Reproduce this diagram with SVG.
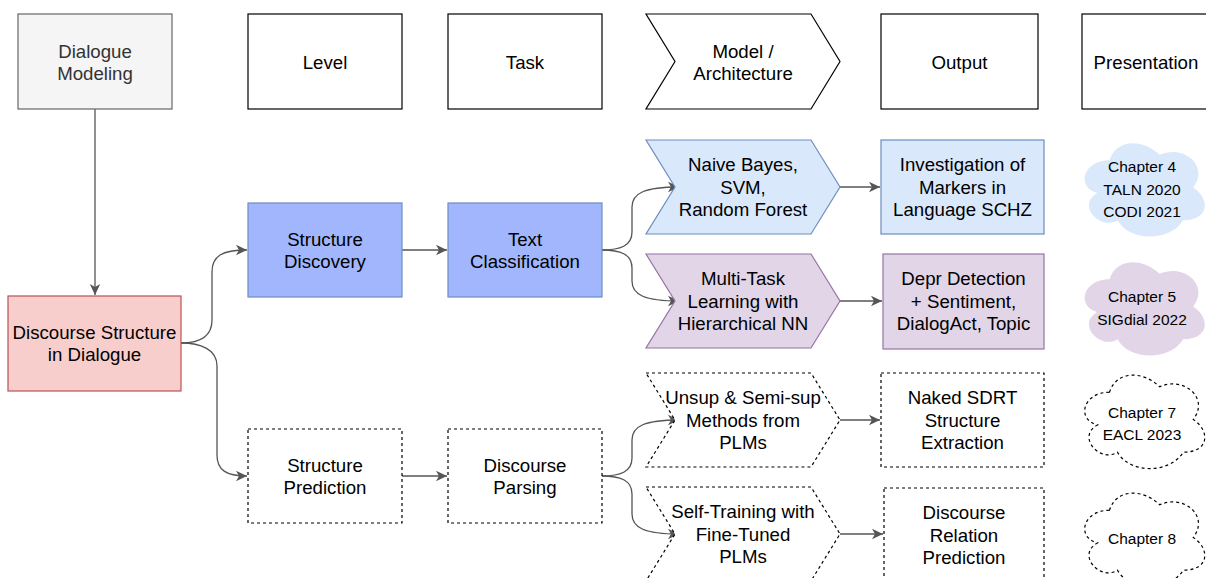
<svg xmlns="http://www.w3.org/2000/svg" xmlns:xlink="http://www.w3.org/1999/xlink" width="1206" height="578" viewBox="0 0 1206 578">
<style>
text{font-family:"Liberation Sans",Arial,Helvetica,sans-serif;font-size:18.67px;fill:#000;text-anchor:middle}
text.sm{font-size:15.5px}
text.gray{fill:#333}
.hdr{fill:#fff;stroke:#000;stroke-width:1.2}
.dash{fill:#fff;stroke:#000;stroke-width:1.2;stroke-dasharray:3 3}
.blue{fill:#dae8fc;stroke:#6c8ebf;stroke-width:1.2}
.blue2{fill:#a1b6fd;stroke:#6c8ebf;stroke-width:1.2}
.purple{fill:#e1d5e7;stroke:#9673a6;stroke-width:1.2}
.red{fill:#f8cecc;stroke:#b85450;stroke-width:1.2}
.grey{fill:#f5f5f5;stroke:#666;stroke-width:1.2}
.edge{fill:none;stroke:#555;stroke-width:1.3;marker-end:url(#arr)}
</style>
<defs>
<marker id="arr" markerWidth="13" markerHeight="12" refX="11" refY="6" orient="auto" markerUnits="userSpaceOnUse">
<path d="M0,0.8 L11,6 L0,11.2 L3,6 Z" fill="#555"/>
</marker>
<path id="cloud" d="M33.5,27.25 C6.7,27.25 0,54.5 21.44,59.95 C0,71.94 24.12,98.1 41.54,87.2 C53.6,109 93.8,109 107.2,87.2 C134,87.2 134,65.4 117.25,54.5 C134,32.7 107.2,10.9 83.75,21.8 C67,5.45 40.2,5.45 33.5,27.25 Z"/>
</defs>
<rect width="1206" height="578" fill="#fff"/>

<g id="edges">
<path class="edge" d="M95,109 L95,295"/>
<path class="edge" d="M181,343 C200,343 212,337 212,320 L212,272 C212,256 222,250 247,250"/>
<path class="edge" d="M181,343 C200,343 217,349 217,366 L217,455 C217,470 226,476 247,476"/>
<path class="edge" d="M402,250 L447,250"/>
<path class="edge" d="M402,476 L447,476"/>
<path class="edge" d="M602,250 C620,250 632,246 632,232 L632,207 C632,193 645,187 679,187"/>
<path class="edge" d="M602,250 C620,250 632,254 632,268 L632,281 C632,295 645,301 679,301"/>
<path class="edge" d="M602,476 C620,476 632,472 632,458 L632,440 C632,426 645,420 679,420"/>
<path class="edge" d="M602,476 C620,476 632,480 632,494 L632,514 C632,528 645,534 679,534"/>
<path class="edge" d="M840,187 L880,187"/>
<path class="edge" d="M840,301 L882,301"/>
<path class="edge" d="M840,420 L880,420"/>
<path class="edge" d="M840,534 L883,534"/>
</g>

<g id="dialogue-modeling">
<rect class="grey" x="18" y="14" width="154" height="95"/>
<text class="gray"><tspan x="95" y="57.5">Dialogue</tspan><tspan x="95" y="79.9">Modeling</tspan></text>
</g>
<g id="hdr-level">
<rect class="hdr" x="248" y="14" width="154" height="95"/>
<text x="325" y="68.7">Level</text>
</g>
<g id="hdr-task">
<rect class="hdr" x="448" y="14" width="154" height="95"/>
<text x="525" y="68.7">Task</text>
</g>
<g id="hdr-model">
<path class="hdr" d="M646,14 L811,14 L840,61.5 L811,109 L646,109 L675,61.5 Z"/>
<text><tspan x="743" y="57.5">Model /</tspan><tspan x="743" y="79.9">Architecture</tspan></text>
</g>
<g id="hdr-output">
<rect class="hdr" x="881" y="14" width="157" height="95"/>
<text x="959.5" y="68.7">Output</text>
</g>
<g id="hdr-presentation">
<rect class="hdr" x="1082" y="14" width="130" height="95"/>
<text x="1146" y="68.7">Presentation</text>
</g>

<g id="discourse-structure">
<rect class="red" x="8" y="296" width="173" height="95"/>
<text><tspan x="94.5" y="338.5">Discourse Structure</tspan><tspan x="94.5" y="360.9">in Dialogue</tspan></text>
</g>
<g id="structure-discovery">
<rect class="blue2" x="248" y="203" width="154" height="94"/>
<text><tspan x="325" y="245.5">Structure</tspan><tspan x="325" y="267.9">Discovery</tspan></text>
</g>
<g id="text-classification">
<rect class="blue2" x="448" y="203" width="154" height="94"/>
<text><tspan x="525" y="245.5">Text</tspan><tspan x="525" y="267.9">Classification</tspan></text>
</g>
<g id="structure-prediction">
<rect class="dash" x="248" y="429" width="154" height="94"/>
<text><tspan x="325" y="471.5">Structure</tspan><tspan x="325" y="493.9">Prediction</tspan></text>
</g>
<g id="discourse-parsing">
<rect class="dash" x="448" y="429" width="154" height="94"/>
<text><tspan x="525" y="471.5">Discourse</tspan><tspan x="525" y="493.9">Parsing</tspan></text>
</g>

<g id="naive-bayes">
<path class="blue" d="M646,140 L811,140 L840,187 L811,234 L646,234 L675,187 Z"/>
<text><tspan x="743" y="171.3">Naive Bayes,</tspan><tspan x="743" y="193.7">SVM,</tspan><tspan x="743" y="216.1">Random Forest</tspan></text>
</g>
<g id="investigation">
<rect class="blue" x="881" y="140" width="163" height="94"/>
<text><tspan x="962.5" y="171.3">Investigation of</tspan><tspan x="962.5" y="193.7">Markers in</tspan><tspan x="962.5" y="216.1">Language SCHZ</tspan></text>
</g>
<g id="multi-task">
<path class="purple" d="M646,254 L811,254 L840,301 L811,348 L646,348 L675,301 Z"/>
<text><tspan x="743" y="285.3">Multi-Task</tspan><tspan x="743" y="307.7">Learning with</tspan><tspan x="743" y="330.1">Hierarchical NN</tspan></text>
</g>
<g id="depr-detection">
<rect class="purple" x="883" y="254" width="161" height="95"/>
<text><tspan x="963.5" y="285.3">Depr Detection</tspan><tspan x="963.5" y="307.7">+ Sentiment,</tspan><tspan x="963.5" y="330.1">DialogAct, Topic</tspan></text>
</g>
<g id="unsup">
<path class="dash" d="M646,373 L811,373 L840,420 L811,467 L646,467 L675,420 Z"/>
<text><tspan x="743" y="404.3">Unsup &amp; Semi-sup</tspan><tspan x="743" y="426.7">Methods from</tspan><tspan x="743" y="449.1">PLMs</tspan></text>
</g>
<g id="naked-sdrt">
<rect class="dash" x="881" y="373" width="163" height="94"/>
<text><tspan x="962.5" y="404.3">Naked SDRT</tspan><tspan x="962.5" y="426.7">Structure</tspan><tspan x="962.5" y="449.1">Extraction</tspan></text>
</g>
<g id="self-training">
<path class="dash" d="M646,487 L811,487 L840,534 L811,581 L646,581 L675,534 Z"/>
<text><tspan x="743" y="518.3">Self-Training with</tspan><tspan x="743" y="540.7">Fine-Tuned</tspan><tspan x="743" y="563.1">PLMs</tspan></text>
</g>
<g id="discourse-relation">
<rect class="dash" x="884" y="488" width="160" height="94"/>
<text><tspan x="964" y="519.3">Discourse</tspan><tspan x="964" y="541.7">Relation</tspan><tspan x="964" y="564.1">Prediction</tspan></text>
</g>

<g id="cloud-ch4">
<use xlink:href="#cloud" href="#cloud" x="1076" y="133" fill="#dae8fc" stroke="none"/>
<text class="sm"><tspan x="1142" y="172.1">Chapter 4</tspan><tspan x="1142" y="194.6">TALN 2020</tspan><tspan x="1142" y="217.1">CODI 2021</tspan></text>
</g>
<g id="cloud-ch5">
<use xlink:href="#cloud" href="#cloud" x="1076" y="252" fill="#e1d5e7" stroke="none"/>
<text class="sm"><tspan x="1142" y="302.4">Chapter 5</tspan><tspan x="1142" y="324.9">SIGdial 2022</tspan></text>
</g>
<g id="cloud-ch7">
<use xlink:href="#cloud" href="#cloud" x="1076" y="365" fill="#fff" stroke="#000" stroke-width="1.2" stroke-dasharray="3 3"/>
<text class="sm"><tspan x="1142" y="417.9">Chapter 7</tspan><tspan x="1142" y="440.4">EACL 2023</tspan></text>
</g>
<g id="cloud-ch8">
<use xlink:href="#cloud" href="#cloud" x="1076" y="483" fill="#fff" stroke="#000" stroke-width="1.2" stroke-dasharray="3 3"/>
<text class="sm" x="1142" y="543.6">Chapter 8</text>
</g>
</svg>
